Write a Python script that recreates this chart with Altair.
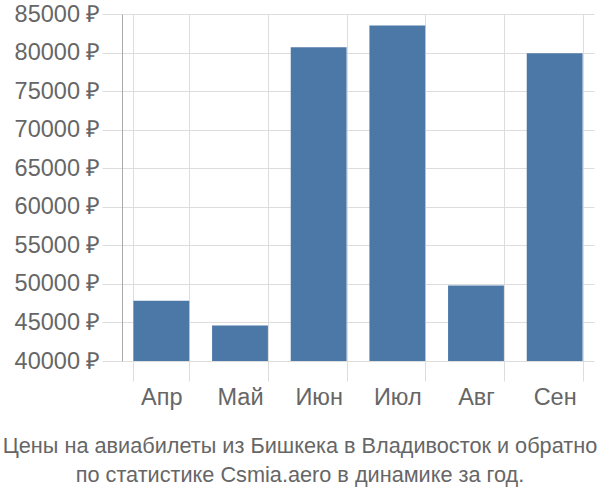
import altair as alt
import pandas as pd

months = ["Апр", "Май", "Июн", "Июл", "Авг", "Сен"]
prices = [47800, 44600, 80700, 83500, 49800, 79900]
baseline = [40000, 40000, 40000, 40000, 40000, 40000]
y_ticks = [40000, 45000, 50000, 55000, 60000, 65000, 70000, 75000, 80000, 85000]
title_lines = [
    "Цены на авиабилеты из Бишкека в Владивосток и обратно",
    "по статистике Csmia.aero в динамике за год.",
]

df = pd.DataFrame({"month": months, "price": prices, "base": baseline})

chart = alt.Chart(df).mark_bar(color="#4c78a8").encode(
    x=alt.X(
        "month:N",
        sort=months,
        scale=alt.Scale(paddingInner=0.29, paddingOuter=0.145),
        axis=alt.Axis(
            title=None,
            tickBand="extent",
            grid=True,
            gridColor="#dddddd",
            tickColor="#dddddd",
            tickSize=20,
            domain=False,
            labelAngle=0,
            labelFont="Liberation Sans",
            labelFontSize=23.5,
            labelColor="#666666",
            labelPadding=4,
        ),
    ),
    y=alt.Y(
        "price:Q",
        scale=alt.Scale(domain=[40000, 85000], zero=False, nice=False),
        axis=alt.Axis(
            title=None,
            values=y_ticks,
            labelExpr="datum.value + ' ₽'",
            grid=True,
            gridColor="#dddddd",
            tickColor="#dddddd",
            tickSize=20,
            domainColor="#aaaaaa",
            labelFont="Liberation Sans",
            labelFontSize=23.5,
            labelColor="#666666",
            labelPadding=2,
        ),
    ),
    y2="base:Q",
).properties(
    width=472,
    height=347,
    autosize="none",
    padding={"left": 122, "top": 14, "right": 6, "bottom": 139},
    title=alt.TitleParams(
        text=title_lines,
        orient="bottom",
        anchor="middle",
        dx=-58,
        offset=27,
        font="Liberation Sans",
        fontSize=21.7,
        fontWeight="normal",
        color="#666666",
        lineHeight=29,
    ),
).configure_view(stroke="transparent")

chart.save("out.html", embed_options={"renderer": "svg", "actions": False})
